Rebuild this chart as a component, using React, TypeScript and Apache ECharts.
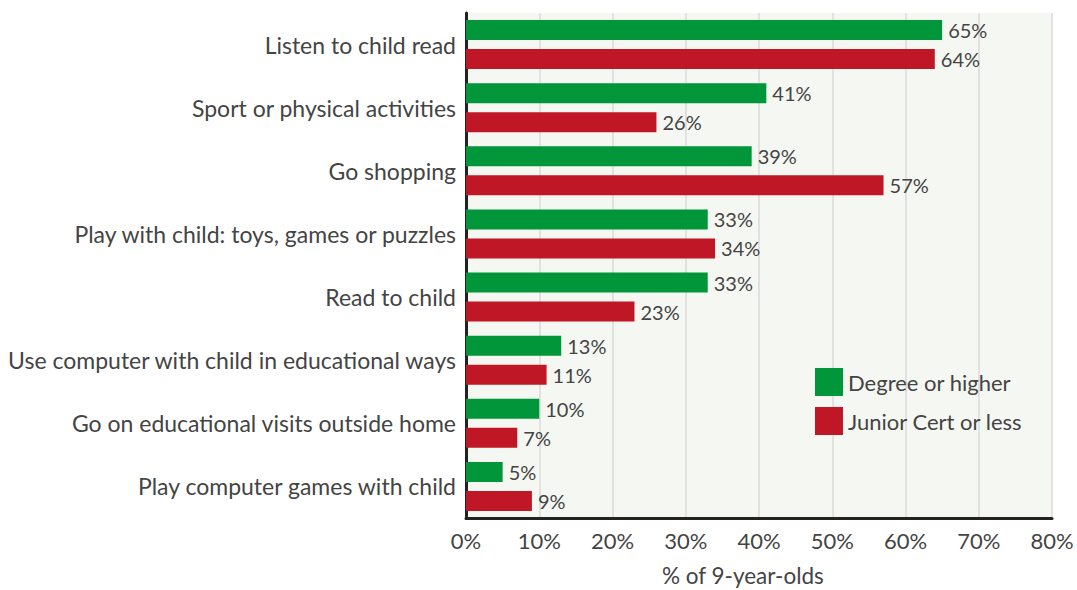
import React, { useEffect, useRef } from "react";
import * as echarts from "echarts";

const categories = [
  "Listen to child read",
  "Sport or physical activities",
  "Go shopping",
  "Play with child: toys, games or puzzles",
  "Read to child",
  "Use computer with child in educational ways",
  "Go on educational visits outside home",
  "Play computer games with child",
];
const degreeValues = [65, 41, 39, 33, 33, 13, 10, 5];
const juniorValues = [64, 26, 57, 34, 23, 11, 7, 9];
const seriesNames = ["Degree or higher", "Junior Cert or less"];
const axisTitle = "% of 9-year-olds";

const FONT = "Lato, 'Noto Sans', sans-serif";
const TEXT = "#444444";

export default function App() {
  const ref = useRef<HTMLDivElement>(null);
  useEffect(() => {
    if (!ref.current) return;
    const chart = echarts.init(ref.current, null, { renderer: "svg" });
    const label = {
      show: true,
      position: "right",
      distance: 6,
      formatter: "{c}%",
      fontSize: 20,
      color: TEXT,
      fontFamily: FONT,
    };
    chart.setOption({
      animation: false,
      textStyle: { fontFamily: FONT },
      grid: {
        left: 466,
        right: 25,
        top: 13,
        bottom: 72,
        show: true,
        backgroundColor: "#f5f8f2",
        borderWidth: 0,
      },
      legend: {
        orient: "vertical",
        left: 815,
        top: 368,
        padding: 0,
        itemWidth: 28,
        itemHeight: 28,
        itemGap: 11,
        icon: "rect",
        textStyle: { fontSize: 22, color: TEXT, fontFamily: FONT },
        data: seriesNames,
      },
      xAxis: {
        type: "value",
        min: 0,
        max: 80,
        interval: 10,
        axisLine: { show: true, lineStyle: { color: "#222", width: 3 } },
        axisTick: { show: false },
        splitLine: { show: true, lineStyle: { color: "#dadada", width: 1.5 } },
        axisLabel: {
          formatter: "{value}%",
          fontSize: 22,
          color: TEXT,
          margin: 11,
          fontFamily: FONT,
        },
      },
      yAxis: {
        type: "category",
        inverse: true,
        data: categories,
        axisLine: { show: true, lineStyle: { color: "#222", width: 3 } },
        axisTick: { show: false },
        axisLabel: { fontSize: 23, color: TEXT, margin: 10, fontFamily: FONT },
      },
      graphic: [
        {
          type: "text",
          left: 662,
          top: 564,
          style: { text: axisTitle, fontSize: 22.5, fill: TEXT, fontFamily: FONT },
        },
      ],
      series: [
        {
          name: seriesNames[0],
          type: "bar",
          data: degreeValues,
          barWidth: 20,
          barGap: "45%",
          itemStyle: { color: "#009639" },
          label,
        },
        {
          name: seriesNames[1],
          type: "bar",
          data: juniorValues,
          barWidth: 20,
          barGap: "45%",
          itemStyle: { color: "#c01726" },
          label,
        },
      ],
    });
    return () => chart.dispose();
  }, []);
  return (
    <div
      ref={ref}
      style={{ position: "absolute", left: 0, top: 0, width: 1077, height: 590 }}
    />
  );
}
